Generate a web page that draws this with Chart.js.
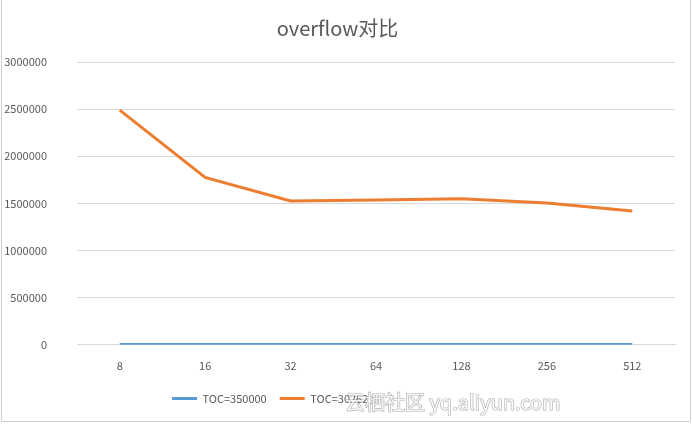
<!DOCTYPE html>
<html>
<head>
<meta charset="utf-8">
<script src="https://cdn.jsdelivr.net/npm/chart.js@4"></script>
<style>
  html, body { margin: 0; padding: 0; background: #fff; }
  #wrap { width: 692px; height: 424px; position: relative; }
</style>
</head>
<body>
<div id="wrap"><canvas id="overflowChart"></canvas></div>
<script>
// chart data
const categories = ['8', '16', '32', '64', '128', '256', '512'];
const toc350000 = [3000, 3000, 3000, 3000, 3000, 3000, 3000];
const toc30262 = [2490000, 1775000, 1525000, 1535000, 1550000, 1505000, 1420000];
const yTicks = [0, 500000, 1000000, 1500000, 2000000, 2500000, 3000000];

const labelFont = "'Noto Sans CJK SC', 'Noto Sans', sans-serif";

// frame, legend placement and watermark
const decorations = {
    id: 'decorations',
    afterLayout(chart) {
        // legend sits left of centre and a little higher in the original
        const lg = chart.legend;
        lg.left = 159;
        lg.top -= 2;
        lg.bottom -= 2;
    },
    beforeDraw(chart) {
        const c = chart.ctx;
        c.save();
        c.strokeStyle = '#cfcfcf';
        c.lineWidth = 1;
        c.beginPath();
        c.moveTo(1.5, 0);
        c.lineTo(1.5, 421.5);
        c.lineTo(690.5, 421.5);
        c.lineTo(690.5, 0);
        c.stroke();
        c.restore();
    },
    afterDraw(chart) {
        const c = chart.ctx;
        c.save();
        c.font = "20px " + labelFont;
        c.textBaseline = 'middle';
        c.textAlign = 'left';
        c.lineWidth = 1.2;
        c.strokeStyle = 'rgba(150,150,150,0.8)';
        c.fillStyle = 'rgba(255,255,255,0.9)';
        c.strokeText('云栖社区 yq.aliyun.com', 345, 402);
        c.fillText('云栖社区 yq.aliyun.com', 345, 402);
        c.restore();
    }
};

document.addEventListener('DOMContentLoaded', function () {
    const ctx = document.getElementById('overflowChart').getContext('2d');
    new Chart(ctx, {
        type: 'line',
        data: {
            labels: categories,
            datasets: [{
                label: 'TOC=350000',
                data: toc350000,
                borderColor: '#5b9bd5',
                backgroundColor: '#5b9bd5',
                borderWidth: 3,
                pointRadius: 0,
                tension: 0
            }, {
                label: 'TOC=30262',
                data: toc30262,
                borderColor: '#ed7d31',
                backgroundColor: '#ed7d31',
                borderWidth: 3,
                pointRadius: 0,
                tension: 0
            }]
        },
        options: {
            responsive: true,
            maintainAspectRatio: false,
            animation: false,
            layout: { padding: { left: 0, right: 17, top: 0, bottom: 8 } },
            plugins: {
                title: {
                    display: true,
                    text: 'overflow对比',
                    color: '#595959',
                    font: { family: labelFont, size: 20, weight: 'normal' },
                    padding: { top: 16, bottom: 22 }
                },
                legend: {
                    position: 'bottom',
                    align: 'start',
                    labels: {
                        color: '#595959',
                        font: { family: labelFont, size: 11 },
                        usePointStyle: true,
                        pointStyle: 'line',
                        pointStyleWidth: 25,
                        boxHeight: 4,
                        padding: 13
                    }
                },
                tooltip: { enabled: false }
            },
            scales: {
                x: {
                    offset: true,
                    afterFit: function (scale) { scale.height -= 4; },
                    grid: { display: false, drawTicks: false },
                    border: { color: '#d9d9d9', width: 1 },
                    ticks: {
                        color: '#595959',
                        font: { family: labelFont, size: 11 },
                        padding: 14
                    }
                },
                y: {
                    min: 0,
                    max: 3000000,
                    afterFit: function (scale) { scale.width = 77; },
                    afterBuildTicks: function (scale) {
                        scale.ticks = yTicks.map(v => ({ value: v }));
                    },
                    grid: { color: '#d9d9d9', drawTicks: false },
                    border: { display: false },
                    ticks: {
                        color: '#595959',
                        font: { family: labelFont, size: 11 },
                        padding: 30,
                        callback: function (v) { return String(v); }
                    }
                }
            }
        },
        plugins: [decorations]
    });
});
</script>
</body>
</html>
